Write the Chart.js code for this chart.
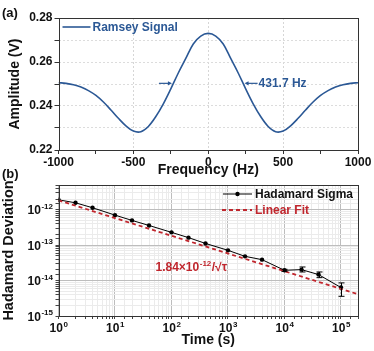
<!DOCTYPE html>
<html><head><meta charset="utf-8">
<script src="https://cdn.jsdelivr.net/npm/chart.js@4.4.1/dist/chart.umd.min.js"></script>
<style>
html,body{margin:0;padding:0;background:#fff;width:374px;height:351px;overflow:hidden;}
#wa{position:absolute;left:0;top:0;width:374px;height:180px;}
#wb{position:absolute;left:0;top:168px;width:374px;height:183px;}
canvas{display:block;}
</style></head><body>
<div id="wa"><canvas id="ca" width="374" height="180"></canvas></div>
<div id="wb"><canvas id="cb" width="374" height="183"></canvas></div>
<script>
// ---------- Panel (a) data ----------
const freqHz = [-1000,-950,-900,-850,-800,-750,-700,-650,-600,-550,-500,-450,-400,-350,-300,-250,-200,-150,-100,-50,
  0,50,100,150,200,250,300,350,400,450,500,550,600,650,700,750,800,850,900,950,1000];
const ramseyV = [0.2506,0.2503,0.2497,0.2486,0.2470,0.2448,0.2418,0.2382,0.2344,0.2310,0.2286,0.2283,0.2307,0.2352,0.2410,0.2478,0.2550,0.2616,0.2682,0.2718,
  0.2730,0.2718,0.2682,0.2616,0.2550,0.2478,0.2410,0.2352,0.2307,0.2283,0.2286,0.2310,0.2344,0.2382,0.2418,0.2448,0.2470,0.2486,0.2497,0.2503,0.2506];
const fwhmEdgesHz = [-236, 236];
const fwhmLevelV = 0.2503;
const fwhmLabel = '431.7 Hz';

// ---------- Panel (b) data ----------
const tauS = [1,2,4,10,20,40,100,200,400,1000,2000,4000,10000,20000,40000,100000];
const hadamardSigma = [1.91e-12,1.57e-12,1.14e-12,7.05e-13,5.0e-13,3.6e-13,2.3e-13,1.63e-13,1.12e-13,7.15e-14,4.84e-14,3.9e-14,1.95e-14,2.04e-14,1.48e-14,6.35e-15];
const errLow  = [null,null,null,null,null,null,null,null,null,null,null,null,1.82e-14,1.75e-14,1.21e-14,3.6e-15];
const errHigh = [null,null,null,null,null,null,null,null,null,null,null,null,2.08e-14,2.42e-14,1.75e-14,8.6e-15];
const fitTau = [1, 200000];
const fitSigma = [1.84e-12, 4.11e-15];
const xTickExps = [0,1,2,3,4,5];
const yTickExps = [-12,-13,-14,-15];

const FONT = "'Liberation Sans', Arial, Helvetica, sans-serif";
const BLUE = '#2b5895';
const RED = '#c0262d';
const INK = '#111';

function frame(chart){
  const a = chart.chartArea, ctx = chart.ctx;
  ctx.save();
  ctx.strokeStyle = '#333'; ctx.lineWidth = 1;
  ctx.strokeRect(Math.round(a.left)+0.5, Math.round(a.top)+0.5, Math.round(a.right-a.left)-1, Math.round(a.bottom-a.top));
  ctx.restore();
}

// ---------- Chart (a) ----------
const plugA = {
  id:'plugA',
  afterDraw(chart){
    const ctx = chart.ctx, a = chart.chartArea, xs = chart.scales.x, ys = chart.scales.y;
    frame(chart);
    ctx.save();
    ctx.font = 'bold 13px ' + FONT; ctx.fillStyle = INK; ctx.textBaseline = 'middle'; ctx.textAlign='left';
    ctx.fillText('(a)', 2, 13);
    // legend
    ctx.strokeStyle = BLUE; ctx.lineWidth = 1.6;
    ctx.beginPath(); ctx.moveTo(a.left+4, a.top+9); ctx.lineTo(a.left+32, a.top+9); ctx.stroke();
    ctx.font = 'bold 12px ' + FONT; ctx.fillStyle = BLUE;
    ctx.fillText('Ramsey Signal', a.left+34, a.top+9.5);
    // FWHM arrows
    const y = ys.getPixelForValue(fwhmLevelV);
    const xl = xs.getPixelForValue(fwhmEdgesHz[0]) - 1;
    const xr = xs.getPixelForValue(fwhmEdgesHz[1]) + 1;
    ctx.strokeStyle = BLUE; ctx.lineWidth = 1.2;
    ctx.beginPath(); ctx.moveTo(xl-13, y); ctx.lineTo(xl-2, y); ctx.stroke();
    ctx.beginPath(); ctx.moveTo(xl, y); ctx.lineTo(xl-4, y-2.2); ctx.lineTo(xl-4, y+2.2); ctx.closePath(); ctx.fillStyle = BLUE; ctx.fill();
    ctx.beginPath(); ctx.moveTo(xr+2, y); ctx.lineTo(xr+13, y); ctx.stroke();
    ctx.beginPath(); ctx.moveTo(xr, y); ctx.lineTo(xr+4, y-2.2); ctx.lineTo(xr+4, y+2.2); ctx.closePath(); ctx.fill();
    ctx.fillText(fwhmLabel, xr+14, y+0.5);
    ctx.restore();
  }
};

new Chart(document.getElementById('ca'), {
  type:'line',
  data:{datasets:[{label:'Ramsey Signal', data:freqHz.map((f,i)=>({x:f,y:ramseyV[i]})), borderColor:BLUE, borderWidth:1.6, pointRadius:0, tension:0.35, fill:false}]},
  options:{
    responsive:false, animation:false, devicePixelRatio:1,
    layout:{padding:{left:0,right:16,top:18,bottom:0}},
    plugins:{legend:{display:false}, tooltip:{enabled:false}},
    scales:{
      x:{type:'linear', min:-1000, max:1000,
        afterFit:s=>{s.height=30;},
        ticks:{stepSize:250, autoSkip:false, maxRotation:0, padding:1, color:INK, font:{family:FONT,size:12,weight:'bold'},
          callback:v=> (v%500===0 ? String(v) : '')},
        grid:{color:c=> (c.tick && c.tick.value%500===0 && Math.abs(c.tick.value)!==1000) ? '#d6d6d6' : 'rgba(0,0,0,0)',
          tickColor:'#333', tickLength:4, lineWidth:1},
        border:{display:false, dash:[2,2]},
        title:{display:true, text:'Frequency (Hz)', color:INK, font:{family:FONT,size:14,weight:'bold'}, padding:{top:0,bottom:1}}
      },
      y:{type:'linear', min:0.22, max:0.28,
        afterFit:s=>{s.width=58.5;},
        ticks:{stepSize:0.01, autoSkip:false, padding:2, color:INK, font:{family:FONT,size:12,weight:'bold'},
          callback:v=> (Math.round(v*100)%2===0 ? v.toFixed(2) : '')},
        grid:{color:c=> (c.tick && (c.tick.value<0.2795 && c.tick.value>0.2205)) ? '#dcdcdc' : 'rgba(0,0,0,0)', tickColor:'#333', tickLength:4},
        border:{display:false, dash:[2,2]},
        title:{display:true, text:'Amplitude (V)', color:INK, font:{family:FONT,size:14,weight:'bold'}, padding:{top:7,bottom:0}}
      }
    }
  },
  plugins:[plugA]
});

// ---------- Chart (b) ----------
function isDecade(v){ const l = Math.log10(v); return Math.abs(l-Math.round(l))<1e-6; }

function drawPow(ctx, x, yBase, exp, align, baseSize, supSize, color){
  ctx.fillStyle = color;
  ctx.font = 'bold '+baseSize+'px '+FONT;
  const wb = ctx.measureText('10').width;
  ctx.font = 'bold '+supSize+'px '+FONT;
  const es = String(exp);
  const ws = ctx.measureText(es).width;
  let x0 = align==='right' ? x - wb - ws : x - (wb+ws)/2;
  ctx.textAlign='left'; ctx.textBaseline='alphabetic';
  ctx.font = 'bold '+baseSize+'px '+FONT;
  ctx.fillText('10', x0, yBase);
  ctx.font = 'bold '+supSize+'px '+FONT;
  ctx.fillText(es, x0+wb+0.5, yBase-baseSize*0.45);
}

const plugB = {
  id:'plugB',
  afterDatasetsDraw(chart){
    const ctx = chart.ctx, xs = chart.scales.x, ys = chart.scales.y;
    ctx.save();
    ctx.strokeStyle = '#000'; ctx.lineWidth = 1;
    tauS.forEach((t,i)=>{
      if (errLow[i]==null) return;
      const x = Math.round(xs.getPixelForValue(t))+0.5;
      const y1 = ys.getPixelForValue(errLow[i]), y2 = ys.getPixelForValue(errHigh[i]);
      ctx.beginPath();
      ctx.moveTo(x,y1); ctx.lineTo(x,y2);
      ctx.moveTo(x-3,y1); ctx.lineTo(x+3,y1);
      ctx.moveTo(x-3,y2); ctx.lineTo(x+3,y2);
      ctx.stroke();
    });
    ctx.restore();
  },
  afterDraw(chart){
    const ctx = chart.ctx, a = chart.chartArea, xs = chart.scales.x, ys = chart.scales.y;
    frame(chart);
    ctx.save();
    ctx.font = 'bold 13px ' + FONT; ctx.fillStyle = INK; ctx.textBaseline='middle'; ctx.textAlign='left';
    ctx.fillText('(b)', 2, 6);
    // tick labels
    yTickExps.forEach(e=>{
      const y = ys.getPixelForValue(Math.pow(10,e));
      drawPow(ctx, 52.5, y+4.5, e, 'right', 12, 8, INK);
    });
    xTickExps.forEach(e=>{
      const x = xs.getPixelForValue(Math.pow(10,e));
      drawPow(ctx, x, a.bottom+16, e, 'center', 12, 8, INK);
    });
    // legend
    const lx = a.right - 135;
    let ly = a.top + 9;
    ctx.strokeStyle = '#000'; ctx.lineWidth = 1;
    ctx.beginPath(); ctx.moveTo(lx, ly); ctx.lineTo(lx+29, ly); ctx.stroke();
    ctx.beginPath(); ctx.arc(lx+14.5, ly, 2.2, 0, Math.PI*2); ctx.fillStyle='#000'; ctx.fill();
    ctx.font = 'bold 12px ' + FONT; ctx.textBaseline='middle'; ctx.textAlign='left';
    ctx.fillStyle = INK; ctx.fillText('Hadamard Sigma', lx+32, ly+0.5);
    ly += 16;
    ctx.strokeStyle = RED; ctx.lineWidth = 1.8; ctx.setLineDash([4,3]);
    ctx.beginPath(); ctx.moveTo(lx-1, ly); ctx.lineTo(lx+29, ly); ctx.stroke();
    ctx.setLineDash([]);
    ctx.fillStyle = RED; ctx.fillText('Linear Fit', lx+32, ly+0.5);
    // fit annotation
    const ax = a.left + 97, ay = a.top + 86;
    ctx.font = 'bold 12px ' + FONT; ctx.textBaseline='alphabetic';
    const s1 = '1.84\u00d710';
    ctx.fillText(s1, ax, ay);
    let w = ctx.measureText(s1).width;
    ctx.font = 'bold 8px ' + FONT;
    ctx.fillText('-12', ax+w+0.5, ay-5.5);
    w += ctx.measureText('-12').width + 1;
    ctx.font = 'bold 12px ' + FONT;
    ctx.fillText('/\u221a\u03c4', ax+w, ay);
    ctx.restore();
  }
};

new Chart(document.getElementById('cb'), {
  type:'line',
  data:{datasets:[
    {label:'Linear Fit', data:fitTau.map((t,i)=>({x:t,y:fitSigma[i]})), borderColor:RED, borderWidth:1.8, borderDash:[4,3], pointRadius:0, tension:0, fill:false},
    {label:'Hadamard Sigma', data:tauS.map((t,i)=>({x:t,y:hadamardSigma[i]})), borderColor:'#000', borderWidth:1, pointRadius:2.2, pointBackgroundColor:'#000', pointBorderWidth:0, tension:0, fill:false}
  ]},
  options:{
    responsive:false, animation:false, devicePixelRatio:1,
    layout:{padding:{left:0,right:16,top:17,bottom:0}},
    plugins:{legend:{display:false}, tooltip:{enabled:false}},
    scales:{
      x:{type:'logarithmic', min:1, max:200000,
        afterFit:s=>{s.height=35;},
        ticks:{display:false, autoSkip:false},
        grid:{color:c=> (c.tick && isDecade(c.tick.value)) ? '#bdbdbd' : '#ebebeb', tickColor:'#444', tickLength:3},
        border:{display:false},
        title:{display:true, text:'Time (s)', color:INK, font:{family:FONT,size:14,weight:'bold'}, padding:{top:0,bottom:2}}
      },
      y:{type:'logarithmic', min:1e-15, max:5e-12,
        afterFit:s=>{s.width=58.5;},
        ticks:{display:false, autoSkip:false},
        grid:{color:c=> (c.tick && isDecade(c.tick.value)) ? '#bdbdbd' : '#ebebeb', tickColor:'#444', tickLength:3},
        border:{display:false},
        title:{display:true, text:'Hadamard Deviation', color:INK, font:{family:FONT,size:14.5,weight:'bold'}, padding:{top:0,bottom:0}}
      }
    }
  },
  plugins:[plugB]
});
</script>
</body></html>
